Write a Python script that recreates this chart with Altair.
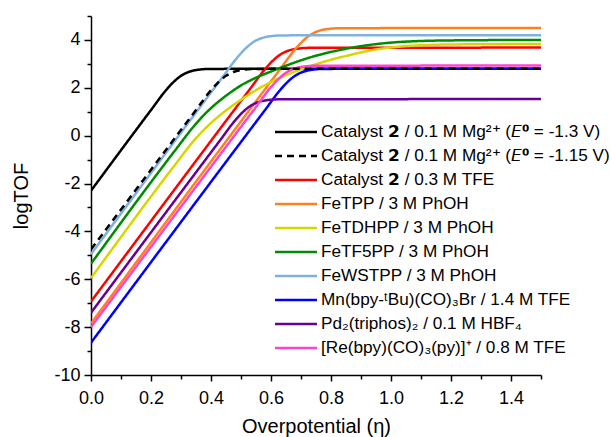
import altair as alt
import pandas as pd

# ---- series names (legend order), colours and dash styles ----
series = [
    "Catalyst 𝟮 / 0.1 M Mg²⁺ (𝘌⁰ = -1.3 V)",
    "Catalyst 𝟮 / 0.1 M Mg²⁺ (𝘌⁰ = -1.15 V)",
    "Catalyst 𝟮 / 0.3 M TFE",
    "FeTPP / 3 M PhOH",
    "FeTDHPP / 3 M PhOH",
    "FeTF5PP / 3 M PhOH",
    "FeWSTPP / 3 M PhOH",
    "Mn(bpy-ᵗBu)(CO)₃Br / 1.4 M TFE",
    "Pd₂(triphos)₂ / 0.1 M HBF₄",
    "[Re(bpy)(CO)₃(py)]⁺ / 0.8 M TFE",
]
colors = ["#000000", "#000000", "#FF0000", "#FF8020", "#D6D600",
          "#008C00", "#80B0E0", "#0000FF", "#660099", "#FF44CC"]
dashes = [[1, 0], [7, 5], [1, 0], [1, 0], [1, 0],
          [1, 0], [1, 0], [1, 0], [1, 0], [1, 0]]

# ---- values (overpotential, logTOF) ----
eta_mg13 = [0.0, 0.20, 0.25, 0.275, 0.30, 0.325, 0.35, 0.40, 1.5]
tof_mg13 = [-2.3, 1.07, 1.9, 2.24, 2.5, 2.66, 2.74, 2.79, 2.8]

eta_mg115 = [0.0, 0.35, 0.40, 0.425, 0.45, 0.475, 0.50, 0.55, 1.5]
tof_mg115 = [-4.75, 1.07, 1.9, 2.24, 2.5, 2.66, 2.74, 2.79, 2.8]

eta_tfe = [0.0, 0.53, 0.58, 0.605, 0.63, 0.655, 0.68, 0.73, 1.5]
tof_tfe = [-6.93, 1.95, 2.78, 3.12, 3.38, 3.54, 3.62, 3.67, 3.68]

eta_fetpp = [0.0, 0.63, 0.68, 0.705, 0.73, 0.755, 0.78, 0.83, 1.5]
tof_fetpp = [-7.85, 2.77, 3.6, 3.94, 4.2, 4.36, 4.44, 4.49, 4.5]

eta_fetdhpp = [0.0, 0.28, 0.34, 0.38, 0.42, 0.46, 0.50, 0.55, 0.60, 0.66,
               0.72, 0.78, 0.86, 0.94, 1.05, 1.2, 1.5]
tof_fetdhpp = [-5.95, -1.22, -0.25, 0.29, 0.75, 1.15, 1.50, 1.90, 2.24, 2.58,
               2.86, 3.1, 3.36, 3.58, 3.74, 3.81, 3.83]

eta_fetf5pp = [0.0, 0.28, 0.34, 0.38, 0.42, 0.46, 0.50, 0.55, 0.60, 0.66,
               0.72, 0.78, 0.83, 0.90, 0.96, 1.05, 1.2, 1.5]
tof_fetf5pp = [-5.35, -0.62, 0.35, 0.91, 1.37, 1.76, 2.10, 2.42, 2.68, 2.97,
               3.23, 3.44, 3.58, 3.74, 3.84, 3.93, 3.98, 4.0]

eta_fewstpp = [0.0, 0.44, 0.49, 0.515, 0.54, 0.565, 0.59, 0.64, 1.5]
tof_fewstpp = [-4.95, 2.47, 3.3, 3.64, 3.9, 4.06, 4.14, 4.19, 4.2]

eta_mn = [0.0, 0.58, 0.63, 0.655, 0.68, 0.705, 0.73, 0.78, 1.5]
tof_mn = [-8.65, 1.07, 1.9, 2.24, 2.5, 2.66, 2.74, 2.79, 2.8]

eta_pd = [0.0, 0.43, 0.48, 0.505, 0.53, 0.555, 0.58, 0.63, 1.5]
tof_pd = [-7.4, -0.2, 0.63, 0.97, 1.23, 1.39, 1.47, 1.52, 1.53]

eta_re = [0.0, 0.55, 0.60, 0.625, 0.65, 0.675, 0.70, 0.75, 1.5]
tof_re = [-8.0, 1.2, 2.03, 2.37, 2.63, 2.79, 2.87, 2.92, 2.93]

curves = [
    (eta_mg13, tof_mg13), (eta_mg115, tof_mg115), (eta_tfe, tof_tfe),
    (eta_fetpp, tof_fetpp), (eta_fetdhpp, tof_fetdhpp), (eta_fetf5pp, tof_fetf5pp),
    (eta_fewstpp, tof_fewstpp), (eta_mn, tof_mn), (eta_pd, tof_pd), (eta_re, tof_re),
]

x_ticks = [round(i * 0.1, 1) for i in range(16)]
y_ticks = list(range(-10, 6))

rows = []
for name, (ex, ty) in zip(series, curves):
    for e, t in zip(ex, ty):
        rows.append({"series": name, "eta": e, "logTOF": t})
df = pd.DataFrame(rows)

FONT = "Liberation Sans"

x_enc = alt.X(
    "eta:Q",
    scale=alt.Scale(domain=[0, 1.5], nice=False, zero=False),
    axis=alt.Axis(
        values=x_ticks,
        labelExpr="round(datum.value*10) % 2 == 0 ? format(datum.value, '.1f') : ''",
        tickSize={"condition": {"test": "round(datum.value*10) % 2 == 0", "value": 6}, "value": 4},
        title="Overpotential (η)",
        labelFontSize=18, titleFontSize=20, labelPadding=8, titlePadding=9,
        labelFlush=False, labelOverlap=False,
    ),
)
y_enc = alt.Y(
    "logTOF:Q",
    scale=alt.Scale(domain=[-10, 5], nice=False, zero=False),
    axis=alt.Axis(
        values=y_ticks,
        labelExpr="datum.value % 2 == 0 ? '' + datum.value : ''",
        tickSize={"condition": {"test": "datum.value % 2 == 0", "value": 7}, "value": 4},
        title="logTOF",
        labelFontSize=18, titleFontSize=20, labelPadding=4, titlePadding=22,
        labelFlush=False, labelOverlap=False,
    ),
)

# a short horizontal stroke: custom path is scaled by sqrt(symbolSize)/2
legend_opts = dict(
    title=None, orient="none", legendX=190, legendY=101,
    symbolType="M-1.527,0H1.527", symbolSize=756, symbolStrokeWidth=2.5,
    labelFontSize=17.2, labelFont=FONT, labelLimit=500, labelColor="black",
    rowPadding=0, labelOffset=10, padding=0,
)
color_enc = alt.Color(
    "series:N",
    scale=alt.Scale(domain=series, range=colors),
    legend=alt.Legend(**legend_opts),
)
dash_enc = alt.StrokeDash(
    "series:N",
    scale=alt.Scale(domain=series, range=dashes),
    legend=alt.Legend(**legend_opts),
)

draw_order = [0, 2, 3, 4, 5, 6, 7, 8, 9, 1]
layers = []
for i in draw_order:
    layers.append(
        alt.Chart(df)
        .transform_filter(alt.datum.series == series[i])
        .mark_line(strokeWidth=2.5, interpolate="monotone", clip=True)
        .encode(x=x_enc, y=y_enc, color=color_enc, strokeDash=dash_enc)
    )

chart = (
    alt.layer(*layers)
    .properties(
        width=450, height=359,
        autosize=alt.AutoSizeParams(type="none"),
        padding={"left": 91, "top": 16, "right": 69, "bottom": 62},
        background="white",
    )
    .configure_view(stroke=None)
    .configure_axis(
        domainColor="black", domainWidth=1.5, tickColor="black", tickWidth=1.5,
        labelColor="black", titleColor="black", labelFont=FONT, titleFont=FONT,
        titleFontWeight="normal", grid=False,
    )
)

chart.save("out.html", embed_options={"renderer": "svg", "actions": False})
